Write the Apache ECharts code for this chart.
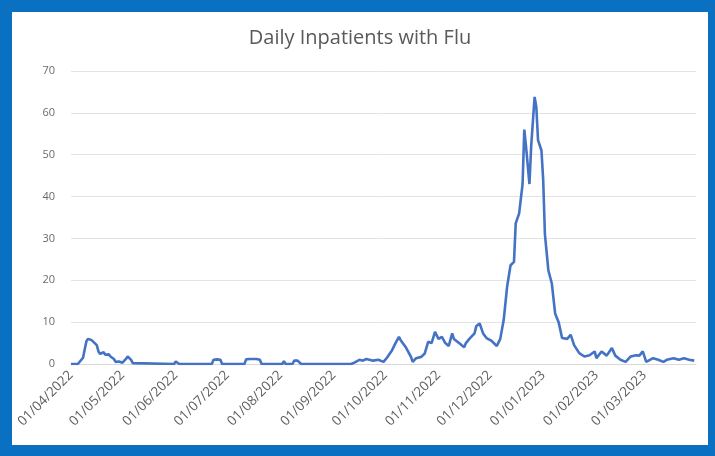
<!DOCTYPE html>
<html>
<head>
<meta charset="utf-8">
<script src="https://cdn.jsdelivr.net/npm/echarts@6/dist/echarts.min.js"></script>
<style>
  html, body { margin: 0; padding: 0; }
  body { width: 715px; height: 456px; background: #0a70c2; position: relative; overflow: hidden; }
  #chart { position: absolute; left: 12px; top: 12px; width: 696px; height: 433px; background: #ffffff; }
</style>
</head>
<body>
<div id="chart"></div>
<script>
// Start of the period (day offset 0)
const startDate = [2022, 4, 1];
// Day offsets from start date of the read samples
const dayOffsets = [0, 4, 5, 7, 9, 10, 12, 13, 15, 16, 17, 19, 20, 22, 23, 25, 26, 28, 30, 32, 33, 35, 36, 37,
  60, 61, 62, 63, 82, 83, 85, 87, 88, 101, 102, 104, 108, 110, 111, 123, 124, 125, 129, 130, 132, 133, 134,
  163, 165, 168, 170, 172, 176, 179, 182, 184, 187, 189, 191, 192, 195, 197, 198, 199, 201, 204, 206, 208,
  210, 212, 214, 216, 218, 220, 222, 223, 226, 229, 230, 232, 235, 236, 238, 240, 242, 245, 248, 250, 252,
  254, 256, 258, 259, 261, 263, 264, 265, 267, 268, 270, 271, 272, 274, 275, 276, 278, 280, 282, 284, 286,
  289, 291, 293, 296, 299, 302, 305, 306, 309, 312, 315, 317, 320, 323, 326, 329, 331, 333, 335, 339, 342,
  345, 347, 351, 354, 357, 360, 363];
const inpatients = [0, 0, 0.3, 1.5, 5.5, 6, 5.7, 5.5, 4.5, 3, 2.4, 2.8, 2.2, 2.3, 1.8, 1.2, 0.5, 0.6, 0.3, 1.2, 1.8, 1.0, 0.2, 0,
  0, 0.6, 0.8, 0, 0, 1, 1.1, 1, 0, 0, 1.1, 1.2, 1.2, 1, 0, 0, 0.7, 0, 0, 0.8, 0.8, 0.6, 0,
  0, 0.3, 1, 0.8, 1.2, 0.8, 1.0, 0.5, 1.5, 3.3, 5, 6.5, 5.7, 4, 2.5, 1.7, 0.5, 1.4, 1.7, 2.5, 5.3,
  5, 7.7, 6, 6.5, 5, 4.3, 7.3, 6, 5, 4, 5, 6, 7.3, 9, 9.7, 7.3, 6.2, 5.5, 4.3, 6, 10.5,
  18.5, 23.6, 24.4, 33.6, 36, 43, 56, 52, 43, 52, 63.8, 61.4, 53.5, 51, 44, 31, 22.4, 19.3, 12, 10, 6.2,
  6, 7, 4.5, 2.6, 1.8, 2.1, 3, 1.4, 3, 2, 3.8, 2, 1, 0.5, 1.8, 2.1, 2, 3, 0.5, 1.4, 1,
  0.5, 1, 1.4, 1, 1.4, 1, 0.8];
// Month tick labels
const tickLabels = ['01/04/2022', '01/05/2022', '01/06/2022', '01/07/2022', '01/08/2022', '01/09/2022',
  '01/10/2022', '01/11/2022', '01/12/2022', '01/01/2023', '01/02/2023', '01/03/2023'];
const yTicks = [0, 10, 20, 30, 40, 50, 60, 70];

const DAY = 86400000;
const t0 = new Date(startDate[0], startDate[1] - 1, startDate[2]).getTime();
const seriesData = dayOffsets.map((d, i) => [t0 + d * DAY, inpatients[i]]);
const tickValues = tickLabels.map(s => {
  const p = s.split('/').map(Number);
  return new Date(p[2], p[1] - 1, p[0]).getTime();
});
function pad(n) { return n < 10 ? '0' + n : '' + n; }
function fmt(v) {
  const d = new Date(v);
  return pad(d.getDate()) + '/' + pad(d.getMonth() + 1) + '/' + d.getFullYear();
}

const chart = echarts.init(document.getElementById('chart'), null, { renderer: 'canvas' });
chart.setOption({
  animation: false,
  backgroundColor: '#ffffff',
  title: {
    text: 'Daily Inpatients with Flu',
    left: 'center',
    top: 11,
    textStyle: { fontFamily: 'Open Sans', fontSize: 20, fontWeight: 'normal', color: '#595959' }
  },
  grid: { left: 59, right: 12, top: 59, bottom: 81, containLabel: false },
  xAxis: {
    type: 'value',
    min: t0,
    max: t0 + 364 * DAY,
    axisLine: { show: true, onZero: false, lineStyle: { color: '#d9d9d9', width: 1 } },
    axisTick: { show: false },
    splitLine: { show: false },
    axisLabel: {
      customValues: tickValues,
      formatter: fmt,
      rotate: 45,
      margin: 9,
      fontFamily: 'Open Sans',
      fontSize: 13.5,
      color: '#5f5f5f',
      hideOverlap: false
    }
  },
  yAxis: {
    type: 'value',
    min: yTicks[0],
    max: yTicks[yTicks.length - 1],
    interval: 10,
    axisLine: { show: false },
    axisTick: { show: false },
    splitLine: { show: true, lineStyle: { color: '#e3e3e3', width: 1 } },
    axisLabel: { fontFamily: 'Open Sans', fontSize: 11, color: '#6a6a6a', margin: 16 }
  },
  series: [{
    type: 'line',
    data: seriesData,
    showSymbol: false,
    smooth: false,
    lineStyle: { color: '#4472C4', width: 2.6 },
    itemStyle: { color: '#4472C4' }
  }]
});
</script>
</body>
</html>
